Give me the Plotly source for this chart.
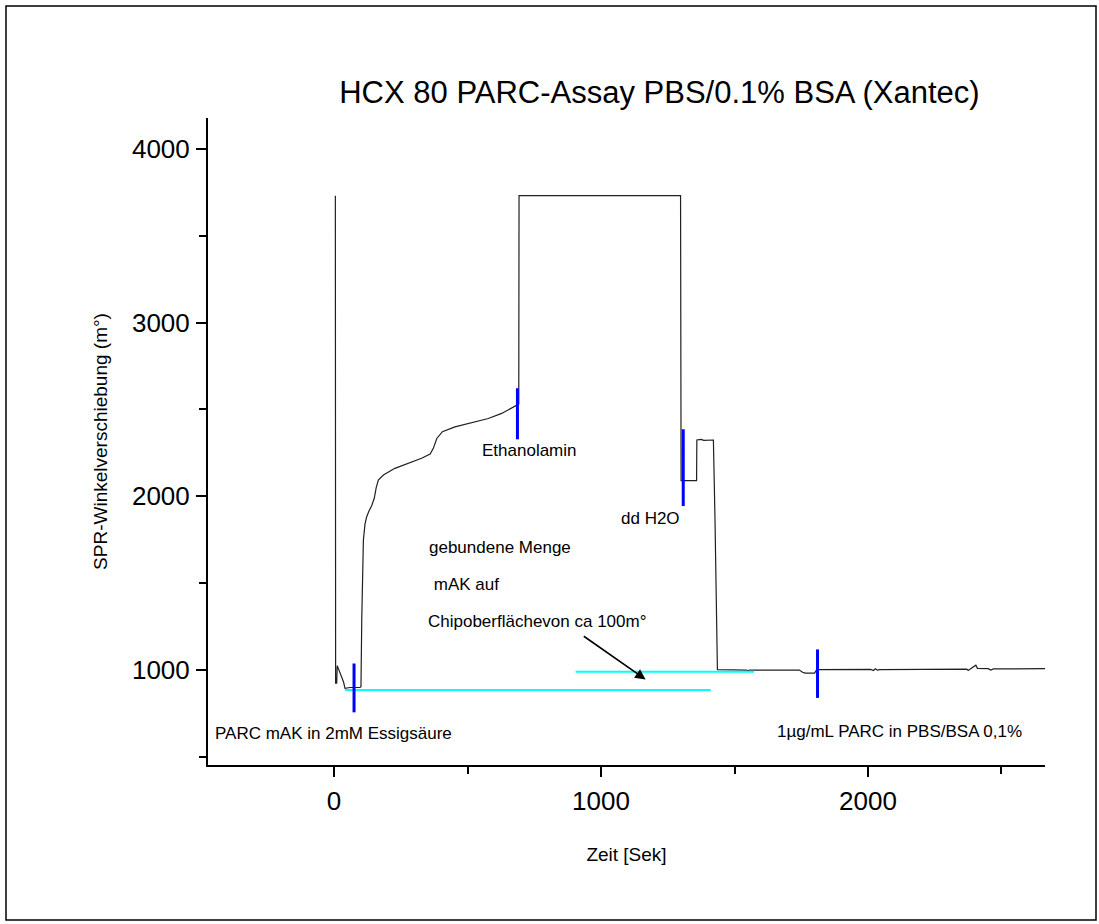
import plotly.graph_objects as go

# ---- data ----
time_s = [5, 6, 10, 12, 16, 22, 30, 36, 41, 60, 97, 101, 104, 106, 110, 116, 122, 131, 141, 151, 158, 166,
          185, 228, 278, 328, 360, 372, 385, 406, 453, 516, 578, 628, 678, 692, 693, 1298, 1300, 1358, 1359,
          1375, 1385, 1421, 1427, 1436, 1545, 1550, 1555, 1743, 1755, 1765, 1800, 1808, 2010, 2020, 2028,
          2035, 2045, 2300, 2370, 2375, 2385, 2404, 2410, 2450, 2460, 2470, 2663]
signal = [3730, 925, 925, 1025, 1010, 985, 960, 930, 895, 900, 900, 905, 1300, 1549, 1748, 1840, 1881, 1915,
          1946, 1990, 2050, 2094, 2123, 2161, 2190, 2219, 2243, 2276, 2333, 2372, 2400, 2425, 2448, 2477,
          2516, 2531, 3730, 3730, 2090, 2090, 2324, 2328, 2322, 2324, 1864, 1003, 1000, 995, 1000, 1000, 988,
          983, 983, 1003, 1004, 998, 1008, 1000, 1003, 1005, 1006, 998, 1008, 1028, 1010, 1008, 1000, 1007,
          1008]

marker_t = [75, 687, 1308, 1811]
marker_lo = [757, 2328, 1944, 840]
marker_hi = [1038, 2622, 2386, 1119]

base_t = [[41, 1411], [905, 1573]]
base_v = [885, 990]

arrow_from = (930, 1201)
arrow_to = (1167, 946)

notes = [
    ("Ethanolamin", 734, 2261, "center"),
    ("dd H2O", 1184, 1875, "center"),
    ("gebundene Menge", 350, 1708, "left"),
    (" mAK auf", 350, 1495, "left"),
    ("Chipoberflächevon ca 100m°", 346, 1282, "left"),
    ("PARC mAK in 2mM Essigsäure", -455, 637, "left"),
    ("1µg/mL PARC in PBS/BSA 0,1%", 1650, 649, "left"),
]

x_range = [-472, 2663]
y_range = [454, 4177]

FONT = "Liberation Sans, Arial, sans-serif"

fig = go.Figure()
fig.add_trace(go.Scatter(x=time_s, y=signal, mode="lines",
                         line=dict(color="#202020", width=1.2), showlegend=False))
for tt, v in zip(base_t, base_v):
    fig.add_trace(go.Scatter(x=tt, y=[v, v], mode="lines",
                             line=dict(color="#00ffff", width=2), showlegend=False))
for tt, lo, hi in zip(marker_t, marker_lo, marker_hi):
    fig.add_trace(go.Scatter(x=[tt, tt], y=[lo, hi], mode="lines",
                             line=dict(color="#0000ff", width=3), showlegend=False))

for text, xv, yv, al in notes:
    fig.add_annotation(x=xv, y=yv, xref="x", yref="y", text=text, showarrow=False,
                       xanchor=al, yanchor="middle", font=dict(family=FONT, size=17, color="black"))

fig.add_annotation(x=arrow_to[0], y=arrow_to[1], ax=arrow_from[0], ay=arrow_from[1],
                   xref="x", yref="y", axref="x", ayref="y", text="", showarrow=True,
                   arrowhead=2, arrowsize=1.3, arrowwidth=1.6, arrowcolor="black")

fig.update_layout(
    width=1099, height=924,
    margin=dict(l=208, r=54, t=118, b=159),
    paper_bgcolor="white", plot_bgcolor="white",
    font=dict(family=FONT, color="black"),
    title=dict(text="HCX 80 PARC-Assay PBS/0.1% BSA (Xantec)", x=0.6, xanchor="center",
               y=1 - 92 / 924, yanchor="middle", font=dict(size=31, family=FONT)),
    xaxis=dict(range=x_range, showgrid=False, zeroline=False, showline=True, linecolor="black",
               linewidth=2, ticks="outside", tickwidth=2, ticklen=10, tickcolor="black",
               tickvals=[0, 1000, 2000], tickfont=dict(size=26),
               minor=dict(tickvals=[500, 1500, 2500], ticks="outside", ticklen=7, tickwidth=2, tickcolor="black"),
               title=dict(text="Zeit [Sek]", font=dict(size=19), standoff=32),
               ticklabelstandoff=2),
    yaxis=dict(range=y_range, showgrid=False, zeroline=False, showline=True, linecolor="black",
               linewidth=2, ticks="outside", tickwidth=2, ticklen=10, tickcolor="black",
               tickvals=[1000, 2000, 3000, 4000], tickfont=dict(size=26),
               minor=dict(tickvals=[500, 1500, 2500, 3500], ticks="outside", ticklen=7, tickwidth=2, tickcolor="black"),
               title=dict(text="SPR-Winkelverschiebung (m°)", font=dict(size=19), standoff=19),
               ticklabelstandoff=1),
)

# outer frame
fig.add_shape(type="rect", xref="paper", yref="paper",
              x0=(6 - 208) / 837, x1=(1096 - 208) / 837,
              y0=(765 - 920) / 647, y1=(765 - 6) / 647,
              line=dict(color="black", width=1.5), fillcolor="rgba(0,0,0,0)")

fig.write_html("out.html")
